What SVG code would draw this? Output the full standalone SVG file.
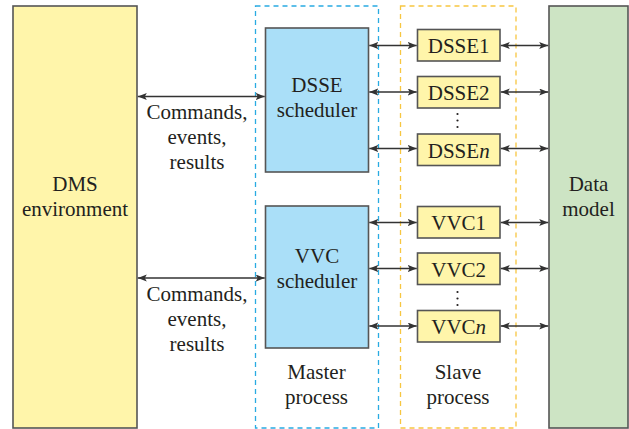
<svg xmlns="http://www.w3.org/2000/svg" width="629" height="429" viewBox="0 0 629 429">
<defs>
<marker id="ah" markerUnits="userSpaceOnUse" markerWidth="10" markerHeight="8" refX="9" refY="3.5" orient="auto-start-reverse">
<path d="M0,0 L9,3.5 L0,7 L2,3.5 z" fill="#333"/>
</marker>
</defs>
<rect width="629" height="429" fill="#fff"/>
<g font-family="Liberation Serif" font-size="21" fill="#231f20" text-anchor="middle">
<g id="master-process">
<rect x="255.5" y="6" width="123" height="422" fill="none" stroke="#29abe2" stroke-width="1.3" stroke-dasharray="5 4"/>
<text x="316.5" y="379">Master</text>
<text x="316.5" y="404">process</text>
</g>
<g id="slave-process">
<rect x="400.5" y="6" width="115.5" height="422" fill="none" stroke="#f7c640" stroke-width="1.3" stroke-dasharray="5 4"/>
<text x="458" y="379">Slave</text>
<text x="458" y="404">process</text>
</g>
<g stroke="#555" stroke-width="1.6">
<g id="dms">
<rect x="13" y="6" width="124" height="422" fill="#fff5aa"/>
<text x="75" y="191" stroke="none">DMS</text>
<text x="75" y="216" stroke="none">environment</text>
</g>
<g id="data-model">
<rect x="549" y="6" width="79" height="422" fill="#cde4c4"/>
<text x="588.5" y="191" stroke="none">Data</text>
<text x="588.5" y="216" stroke="none">model</text>
</g>
<g id="dsse-scheduler">
<rect x="265.5" y="28" width="103" height="144" fill="#aadff8"/>
<text x="317" y="92" stroke="none">DSSE</text>
<text x="317" y="117" stroke="none">scheduler</text>
</g>
<g id="vvc-scheduler">
<rect x="265.5" y="206" width="103" height="142" fill="#aadff8"/>
<text x="317" y="263" stroke="none">VVC</text>
<text x="317" y="288" stroke="none">scheduler</text>
</g>
<g id="dsse1">
<rect x="417.5" y="29.5" width="82.5" height="31.5" fill="#fff5aa"/>
<text x="458.7" y="53" stroke="none">DSSE1</text>
</g>
<g id="dsse2">
<rect x="417.5" y="76.5" width="82.5" height="31.5" fill="#fff5aa"/>
<text x="458.7" y="100" stroke="none">DSSE2</text>
</g>
<g id="dssen">
<rect x="417.5" y="134" width="82.5" height="31.5" fill="#fff5aa"/>
<text x="458.7" y="157.5" stroke="none">DSSE<tspan font-style="italic">n</tspan></text>
</g>
<g id="vvc1">
<rect x="417.5" y="206.5" width="82.5" height="31.5" fill="#fff5aa"/>
<text x="458.7" y="230" stroke="none">VVC1</text>
</g>
<g id="vvc2">
<rect x="417.5" y="253" width="82.5" height="31.5" fill="#fff5aa"/>
<text x="458.7" y="276.5" stroke="none">VVC2</text>
</g>
<g id="vvcn">
<rect x="417.5" y="310.5" width="82.5" height="31.5" fill="#fff5aa"/>
<text x="458.7" y="334" stroke="none">VVC<tspan font-style="italic">n</tspan></text>
</g>
</g>
<g id="ellipses">
<circle cx="457.5" cy="114" r="1.1"/>
<circle cx="457.5" cy="120.5" r="1.1"/>
<circle cx="457.5" cy="127" r="1.1"/>
<circle cx="457.5" cy="292" r="1.1"/>
<circle cx="457.5" cy="298.5" r="1.1"/>
<circle cx="457.5" cy="305" r="1.1"/>
</g>
<g id="labels">
<text x="197" y="119">Commands,</text>
<text x="197" y="144">events,</text>
<text x="197" y="169">results</text>
<text x="197" y="301">Commands,</text>
<text x="197" y="326">events,</text>
<text x="197" y="351">results</text>
</g>
</g>
<g id="connectors" stroke="#333" stroke-width="1.3" fill="none" marker-start="url(#ah)" marker-end="url(#ah)">
<line x1="137.8" y1="96.5" x2="264.7" y2="96.5"/>
<line x1="137.8" y1="278" x2="264.7" y2="278"/>
<line x1="369.3" y1="45.5" x2="416.7" y2="45.5"/>
<line x1="369.3" y1="92" x2="416.7" y2="92"/>
<line x1="369.3" y1="148.5" x2="416.7" y2="148.5"/>
<line x1="369.3" y1="222.5" x2="416.7" y2="222.5"/>
<line x1="369.3" y1="268.5" x2="416.7" y2="268.5"/>
<line x1="369.3" y1="326" x2="416.7" y2="326"/>
<line x1="500.8" y1="45.5" x2="548.2" y2="45.5"/>
<line x1="500.8" y1="92" x2="548.2" y2="92"/>
<line x1="500.8" y1="148.5" x2="548.2" y2="148.5"/>
<line x1="500.8" y1="222.5" x2="548.2" y2="222.5"/>
<line x1="500.8" y1="268.5" x2="548.2" y2="268.5"/>
<line x1="500.8" y1="326" x2="548.2" y2="326"/>
</g>
</svg>
